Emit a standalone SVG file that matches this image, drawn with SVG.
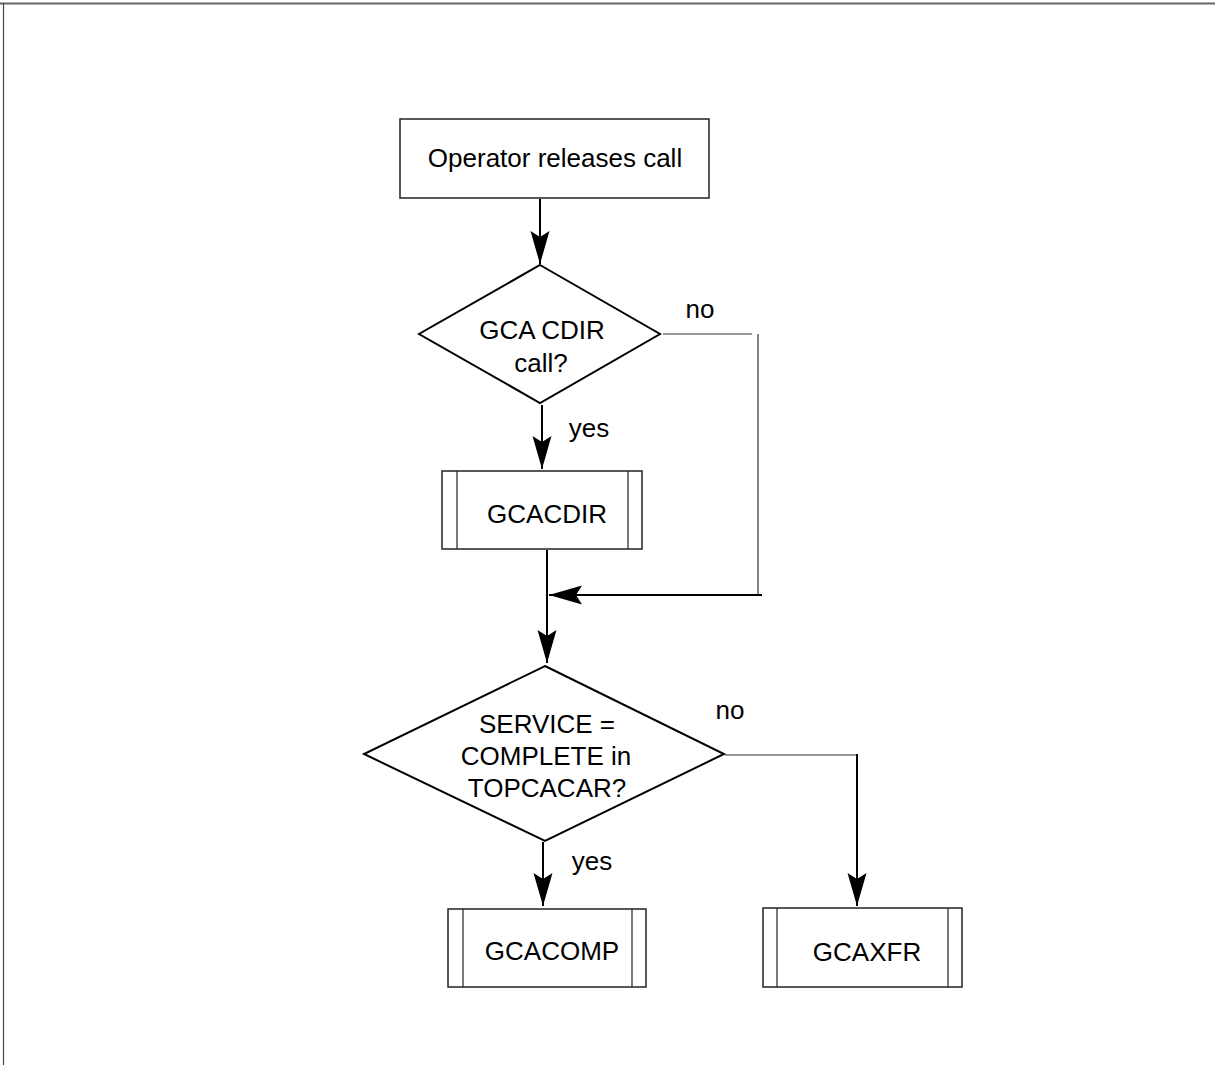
<svg xmlns="http://www.w3.org/2000/svg" width="1215" height="1065" viewBox="0 0 1215 1065">
<style>
.box{fill:#fff;stroke:#222;stroke-width:1.5}
.inner{stroke:#222;stroke-width:1.2;fill:none}
.dia{fill:#fff;stroke:#000;stroke-width:2}
.t{font-family:"Liberation Sans",Arial,sans-serif;font-size:26px;fill:#000;text-anchor:middle}
.lbl{font-family:"Liberation Sans",Arial,sans-serif;font-size:26px;fill:#000;text-anchor:middle}
.thick{stroke:#000;stroke-width:2;fill:none}
.thin{stroke:#333;stroke-width:1.2;fill:none}
</style>
<defs>
<marker id="ah" markerUnits="userSpaceOnUse" viewBox="-34 -10 36 20" markerWidth="36" markerHeight="20" refX="0" refY="0" orient="auto">
<path d="M0,0 L-33,-9.5 L-27,0 L-33,9.5 Z" fill="#000"/>
</marker>
</defs>
<rect width="1215" height="1065" fill="#fff"/>
<g id="frame">
<line x1="0" y1="3.5" x2="1215" y2="3.5" stroke="#666" stroke-width="2"/>
<line x1="3.5" y1="3" x2="3.5" y2="1065" stroke="#444" stroke-width="1.2"/>
</g>
<g id="connectors">
<line class="thick" x1="540" y1="199" x2="540" y2="264" marker-end="url(#ah)"/>
<line class="thick" x1="542" y1="405" x2="542" y2="469" marker-end="url(#ah)"/>
<polyline class="thin" points="663,334 752,334"/>
<polyline class="thin" points="758,334 758,594"/>
<line class="thick" x1="762" y1="595" x2="549" y2="595" marker-end="url(#ah)"/>
<line class="thick" x1="547" y1="550" x2="547" y2="663" marker-end="url(#ah)"/>
<line class="thick" x1="543" y1="842" x2="543" y2="906" marker-end="url(#ah)"/>
<polyline class="thin" points="725,755 857,755"/>
<line class="thick" x1="857" y1="754" x2="857" y2="906" marker-end="url(#ah)"/>
<text class="lbl" x="700" y="318">no</text>
<text class="lbl" x="589" y="437">yes</text>
<text class="lbl" x="730" y="719">no</text>
<text class="lbl" x="592" y="870">yes</text>
</g>
<g id="start">
<rect class="box" x="400" y="119" width="309" height="79"/>
<text class="t" x="555" y="167">Operator releases call</text>
</g>
<g id="dec1">
<polygon class="dia" points="540,265 660,334 540,403 419,334"/>
<text class="t" x="542" y="339">GCA CDIR</text>
<text class="t" x="541" y="372">call?</text>
</g>
<g id="gcacdir">
<rect class="box" x="442" y="471" width="200" height="78"/>
<line class="inner" x1="457" y1="471" x2="457" y2="549"/>
<line class="inner" x1="628" y1="471" x2="628" y2="549"/>
<text class="t" x="547" y="523">GCACDIR</text>
</g>
<g id="dec2">
<polygon class="dia" points="545,666 724,754 545,841 364,754"/>
<text class="t" x="547" y="733">SERVICE =</text>
<text class="t" x="546" y="765">COMPLETE in</text>
<text class="t" x="547" y="797">TOPCACAR?</text>
</g>
<g id="gcacomp">
<rect class="box" x="448" y="909" width="198" height="78"/>
<line class="inner" x1="463" y1="909" x2="463" y2="987"/>
<line class="inner" x1="632" y1="909" x2="632" y2="987"/>
<text class="t" x="552" y="960">GCACOMP</text>
</g>
<g id="gcaxfr">
<rect class="box" x="763" y="908" width="199" height="79"/>
<line class="inner" x1="777" y1="908" x2="777" y2="987"/>
<line class="inner" x1="948" y1="908" x2="948" y2="987"/>
<text class="t" x="867" y="961">GCAXFR</text>
</g>
</svg>
